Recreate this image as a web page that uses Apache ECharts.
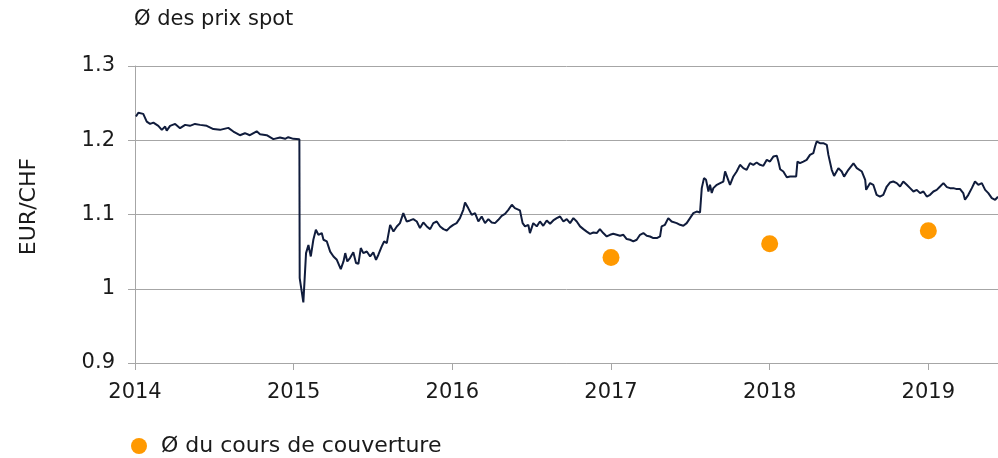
<!DOCTYPE html>
<html>
<head>
<meta charset="utf-8">
<script src="https://cdn.jsdelivr.net/npm/echarts@6/dist/echarts.min.js"></script>
<style>
html,body{margin:0;padding:0;background:#fff;}
#chart{width:998px;height:458px;}
</style>
</head>
<body>
<div id="chart"></div>
<script>
// Time in decimal years
const spotDates = [
2014.006,2014.021,2014.052,2014.074,2014.095,2014.116,2014.147,2014.169,2014.190,2014.200,
2014.221,2014.253,2014.284,2014.316,2014.346,2014.378,2014.410,2014.452,2014.494,2014.536,
2014.588,2014.620,2014.661,2014.693,2014.724,2014.767,2014.788,2014.830,2014.872,2014.914,
2014.946,2014.966,2014.998,2015.036,2015.038,2015.047,2015.061,2015.078,2015.093,2015.108,
2015.124,2015.140,2015.156,2015.177,2015.188,2015.209,2015.230,2015.251,2015.272,2015.297,
2015.314,2015.325,2015.338,2015.355,2015.376,2015.393,2015.408,2015.423,2015.439,2015.461,
2015.482,2015.502,2015.519,2015.534,2015.555,2015.570,2015.587,2015.608,2015.629,2015.650,
2015.670,2015.691,2015.712,2015.733,2015.754,2015.776,2015.796,2015.817,2015.839,2015.860,
2015.880,2015.902,2015.923,2015.944,2015.965,2015.986,2016.006,2016.027,2016.048,2016.069,
2016.080,2016.100,2016.122,2016.143,2016.164,2016.185,2016.206,2016.227,2016.248,2016.269,
2016.290,2016.311,2016.332,2016.353,2016.375,2016.394,2016.426,2016.443,2016.458,2016.479,
2016.489,2016.510,2016.532,2016.552,2016.573,2016.595,2016.616,2016.636,2016.658,2016.679,
2016.700,2016.721,2016.742,2016.763,2016.784,2016.805,2016.826,2016.847,2016.868,2016.889,
2016.910,2016.930,2016.951,2016.973,2016.994,2017.014,2017.036,2017.057,2017.078,2017.099,
2017.120,2017.141,2017.162,2017.183,2017.204,2017.225,2017.246,2017.267,2017.289,2017.309,
2017.319,2017.340,2017.361,2017.382,2017.414,2017.435,2017.456,2017.477,2017.498,2017.519,
2017.540,2017.561,2017.572,2017.586,2017.599,2017.614,2017.624,2017.635,2017.645,2017.667,
2017.688,2017.708,2017.719,2017.730,2017.750,2017.771,2017.792,2017.813,2017.834,2017.855,
2017.876,2017.897,2017.918,2017.939,2017.960,2017.982,2018.002,2018.023,2018.045,2018.055,
2018.066,2018.086,2018.108,2018.129,2018.150,2018.167,2018.175,2018.191,2018.212,2018.233,
2018.254,2018.275,2018.286,2018.296,2018.317,2018.338,2018.360,2018.370,2018.391,2018.406,
2018.433,2018.454,2018.469,2018.496,2018.528,2018.549,2018.581,2018.602,2018.608,2018.633,
2018.653,2018.674,2018.695,2018.716,2018.738,2018.758,2018.779,2018.801,2018.822,2018.842,
2018.864,2018.885,2018.906,2018.927,2018.948,2018.969,2018.990,2019.011,2019.032,2019.053,
2019.074,2019.095,2019.117,2019.137,2019.158,2019.179,2019.200,2019.220,2019.231,2019.252,
2019.274,2019.294,2019.315,2019.337,2019.358,2019.378,2019.400,2019.421,2019.431,2019.439
];
const spotRates = [
1.232,1.237,1.2355,1.225,1.222,1.2238,1.2194,1.214,1.2185,1.213,
1.2194,1.222,1.2163,1.2207,1.2194,1.222,1.2207,1.2194,1.2150,1.214,
1.2167,1.2117,1.2068,1.2095,1.2068,1.212,1.2082,1.2068,1.2015,1.2037,
1.2019,1.2041,1.2019,1.2015,1.0144,1.012,0.9816,1.048,1.059,1.0435,
1.066,1.0794,1.0727,1.075,1.066,1.0637,1.050,1.0435,1.039,1.0265,
1.0368,1.048,1.0368,1.0413,1.049,1.0346,1.0336,1.0548,1.048,1.0502,
1.0435,1.049,1.039,1.0458,1.057,1.0637,1.0615,1.0861,1.077,1.0839,
1.0884,1.1018,1.0906,1.092,1.0938,1.0906,1.0817,1.0893,1.0839,1.0803,
1.0884,1.0906,1.0839,1.0803,1.0785,1.083,1.0861,1.0884,1.0951,1.1063,
1.1162,1.1086,1.0996,1.1018,1.0906,1.0973,1.0884,1.0938,1.0893,1.0884,
1.0929,1.0982,1.1009,1.1063,1.1131,1.1086,1.1055,1.0884,1.084,1.0861,
1.075,1.0884,1.084,1.0906,1.0848,1.092,1.0875,1.092,1.0951,1.0973,
1.0906,1.0938,1.0884,1.0951,1.0906,1.084,1.0803,1.077,1.074,1.0758,
1.075,1.0803,1.075,1.0704,1.0727,1.074,1.0727,1.0713,1.0727,1.0669,
1.066,1.0637,1.066,1.0727,1.075,1.0713,1.0704,1.0682,1.0682,1.0704,
1.084,1.0861,1.0951,1.0906,1.0884,1.0861,1.0848,1.0884,1.0951,1.1018,
1.104,1.1027,1.1355,1.149,1.1467,1.131,1.14,1.129,1.1355,1.14,
1.1423,1.1444,1.158,1.1557,1.14,1.1512,1.1579,1.1669,1.1624,1.1602,
1.1692,1.1669,1.17,1.1669,1.1655,1.1736,1.1713,1.178,1.179,1.1713,
1.161,1.1579,1.1503,1.1512,1.1512,1.1512,1.1713,1.1692,1.1713,1.1736,
1.1803,1.1826,1.1915,1.1983,1.1961,1.1961,1.1938,1.1803,1.1602,1.152,
1.1624,1.1579,1.151,1.1602,1.169,1.1624,1.1579,1.1467,1.1332,1.1423,
1.14,1.1265,1.1242,1.1265,1.1377,1.143,1.1444,1.1423,1.1377,1.1444,
1.14,1.1355,1.131,1.1332,1.1288,1.131,1.1242,1.1265,1.131,1.1332,
1.1377,1.1423,1.1369,1.1355,1.1355,1.1342,1.1342,1.1288,1.1198,1.1265,
1.1355,1.1444,1.14,1.1423,1.1332,1.1288,1.122,1.1198,1.122,1.124
];
const hedgeYears = [2017, 2018, 2019];
const hedgeRates = [1.042, 1.0606, 1.078];
const yearTicks = [2014, 2015, 2016, 2017, 2018, 2019];
const spotLabel = 'Ø des prix spot';
const hedgeLabel = 'Ø du cours de couverture';
const yAxisLabel = 'EUR/CHF';

const FONT = 'DejaVu Sans';
const GRAY = '#a6a6a6';
const TXT = '#1a1a1a';
const chart = echarts.init(document.getElementById('chart'), null, {renderer: 'canvas'});
chart.setOption({
  animation: false,
  backgroundColor: '#ffffff',
  textStyle: {fontFamily: FONT},
  title: {
    text: spotLabel, left: 134, top: 9, padding: 0,
    textStyle: {fontFamily: FONT, fontSize: 21, fontWeight: 'normal', color: TXT}
  },
  legend: {
    data: [hedgeLabel], left: 131, top: 435, padding: 0, icon: 'circle',
    itemWidth: 16, itemHeight: 16,
    textStyle: {fontFamily: FONT, fontSize: 22, color: TXT, padding: [0, 0, 0, 9]}
  },
  grid: {left: 135, right: 0, top: 66, bottom: 95, containLabel: false},
  xAxis: {
    type: 'value', min: 2014, max: 2019.439, interval: 1,
    axisLine: {show: true, lineStyle: {color: GRAY, width: 1}},
    axisTick: {show: true, length: 7, lineStyle: {color: GRAY}, customValues: yearTicks},
    axisLabel: {
      customValues: yearTicks, margin: 19,
      fontFamily: FONT, fontSize: 21, color: TXT,
      formatter: v => String(Math.round(v))
    },
    splitLine: {show: false}
  },
  yAxis: {
    type: 'value', min: 0.9, max: 1.3, interval: 0.1,
    name: yAxisLabel, nameLocation: 'middle', nameGap: 95, nameRotate: 90,
    nameTextStyle: {fontFamily: FONT, fontSize: 22, color: TXT, padding: [0, 0, 0, 16]},
    axisLine: {show: true, lineStyle: {color: GRAY, width: 1}},
    axisTick: {show: true, length: 7, lineStyle: {color: GRAY}},
    axisLabel: {
      margin: 20, fontFamily: FONT, fontSize: 21, color: TXT, padding: [5, 0, 0, 0],
      formatter: v => String(+v.toFixed(1))
    },
    splitLine: {show: true, lineStyle: {color: GRAY, width: 1}}
  },
  series: [
    {
      name: spotLabel, type: 'line', showSymbol: false, symbol: 'none',
      data: spotDates.map((d, i) => [d, spotRates[i]]),
      lineStyle: {color: '#101c3c', width: 2}, itemStyle: {color: '#101c3c'},
      z: 3
    },
    {
      name: hedgeLabel, type: 'scatter', symbol: 'circle', symbolSize: 17,
      data: hedgeYears.map((d, i) => [d, hedgeRates[i]]),
      itemStyle: {color: '#ff9900', opacity: 1},
      z: 4
    }
  ]
});
</script>
</body>
</html>
